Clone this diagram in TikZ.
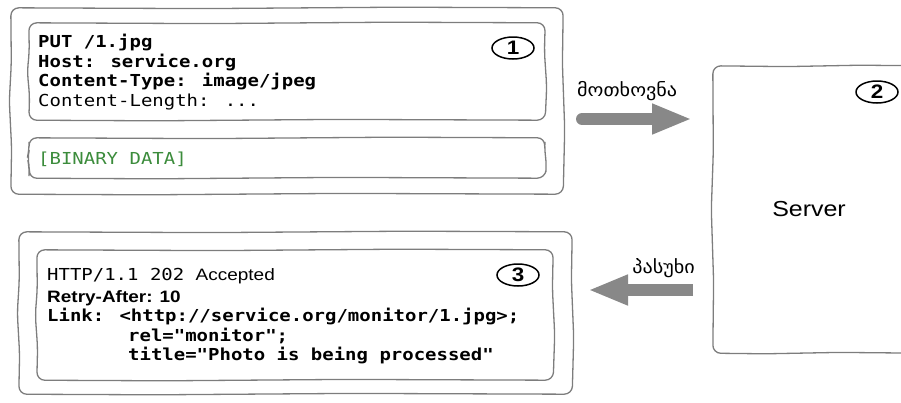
\documentclass[tikz,border=0pt]{standalone}
\usepackage{fontspec}
\usetikzlibrary{arrows.meta,calc,shapes.geometric}
\newfontfamily\codefont[FakeStretch=1.15]{DejaVu Sans Mono}
\newfontfamily\labelfont[FakeStretch=1.15]{Liberation Sans}
\newfontfamily\geofont[FakeStretch=1.12]{DejaVu Sans}
\definecolor{boxgray}{RGB}{125,125,125}
\definecolor{arrowgray}{RGB}{136,136,136}
\definecolor{datagreen}{RGB}{60,140,60}
\tikzset{
  boxarea/.style={rectangle, draw=none, inner sep=0pt},
  boxline/.style={draw=boxgray, line width=1.3pt, rounded corners=8pt},
  codeline/.style={anchor=base west, inner sep=0pt,
    font=\codefont\fontsize{16.5}{19}\selectfont},
  numoval/.style={ellipse, draw=black, line width=1.5pt, minimum width=42pt,
    minimum height=22pt, inner sep=0pt,
    font=\labelfont\bfseries\fontsize{19.5}{19.5}\selectfont},
  geolabel/.style={inner sep=0pt, font=\geofont\fontsize{18}{18}\selectfont},
  fatarrow/.style={draw=arrowgray, line width=12pt,
    -{Triangle[length=40pt, width=28pt]}},
}
% hand-drawn looking outline around a named node
\newcommand\sketchoutline[1]{%
  \draw[boxline]
    ($(#1.west)+(-1.5,0)$)
    -- ($(#1.north west)!0.3!(#1.south west)+(0.5,0)$)
    -- (#1.north west)
    -- ($(#1.north west)!0.35!(#1.north east)+(0,0.8)$)
    -- ($(#1.north west)!0.7!(#1.north east)+(0,-0.6)$)
    -- (#1.north east)
    -- ($(#1.north east)!0.3!(#1.south east)+(-0.8,0)$)
    -- ($(#1.north east)!0.65!(#1.south east)+(1.5,0)$)
    -- (#1.south east)
    -- ($(#1.south east)!0.4!(#1.south west)+(0,-0.8)$)
    -- ($(#1.south east)!0.75!(#1.south west)+(0,0.6)$)
    -- (#1.south west)
    -- ($(#1.south west)!0.25!(#1.north west)+(0.8,0)$)
    -- cycle;}
\begin{document}
\begin{tikzpicture}[x=1pt, y=-1pt]
\useasboundingbox (0,0) rectangle (901,402);
\clip (0,0) rectangle (901,402);
% request boxes
\node[boxarea, minimum width=552pt, minimum height=186pt] (req) at (287,101) {};
\node[boxarea, minimum width=516pt, minimum height=97pt] (head) at (287,71.5) {};
\node[boxarea, minimum width=516pt, minimum height=40pt] (body) at (287,158) {};
\sketchoutline{req}
\sketchoutline{head}
\sketchoutline{body}
\node[codeline] (put) at (38,47) {\bfseries PUT /1.jpg};
\node[codeline] (host) at (38,67) {\bfseries Host: service.org};
\node[codeline] (ctype) at (38,86.5) {\bfseries Content-Type: image/jpeg};
\node[codeline] (clen) at (38,106) {Content-Length: ...};
\node[codeline, text=datagreen] (data) at (38,164) {[BINARY DATA]};
\node[numoval] (n1) at (513,48) {1};
% response boxes
\node[boxarea, minimum width=553pt, minimum height=162pt] (resp) at (295.5,313) {};
\node[boxarea, minimum width=516pt, minimum height=130pt] (rhead) at (295,315) {};
\sketchoutline{resp}
\sketchoutline{rhead}
\node[codeline] (status) at (47,280.5) {HTTP/1.1 202 {\labelfont Accepted}};
\node[codeline] (retry) at (47,302) {\labelfont\bfseries Retry-After: 10};
\node[codeline] (link) at (47,321) {\bfseries Link: <http://service.org/monitor/1.jpg>;};
\node[codeline] (rel) at (128,341) {\bfseries rel="monitor";};
\node[codeline] (title) at (128,360) {\bfseries title="Photo is being processed"};
\node[numoval] (n3) at (518,275) {3};
% server
\node[boxarea, minimum width=210pt, minimum height=287pt] (server) at (818,209.5) {};
\sketchoutline{server}
\node[inner sep=0pt, font=\labelfont\fontsize{21.7}{22}\selectfont] (srvtxt) at (809,209) {Server};
\node[numoval] (n2) at (877,92) {2};
% arrows
\node[geolabel, anchor=base west] (reqlabel) at (577,96) {მოთხოვნა};
\coordinate (rqs) at (582,119);
\coordinate (rqe) at (692,119);
\draw[fatarrow, line cap=round] (rqs) -- (rqe);
\node[geolabel, anchor=base east] (resplabel) at (695,273) {პასუხი};
\coordinate (rss) at (693,290);
\coordinate (rse) at (588,290);
\draw[fatarrow] (rss) -- (rse);
\end{tikzpicture}
\end{document}
